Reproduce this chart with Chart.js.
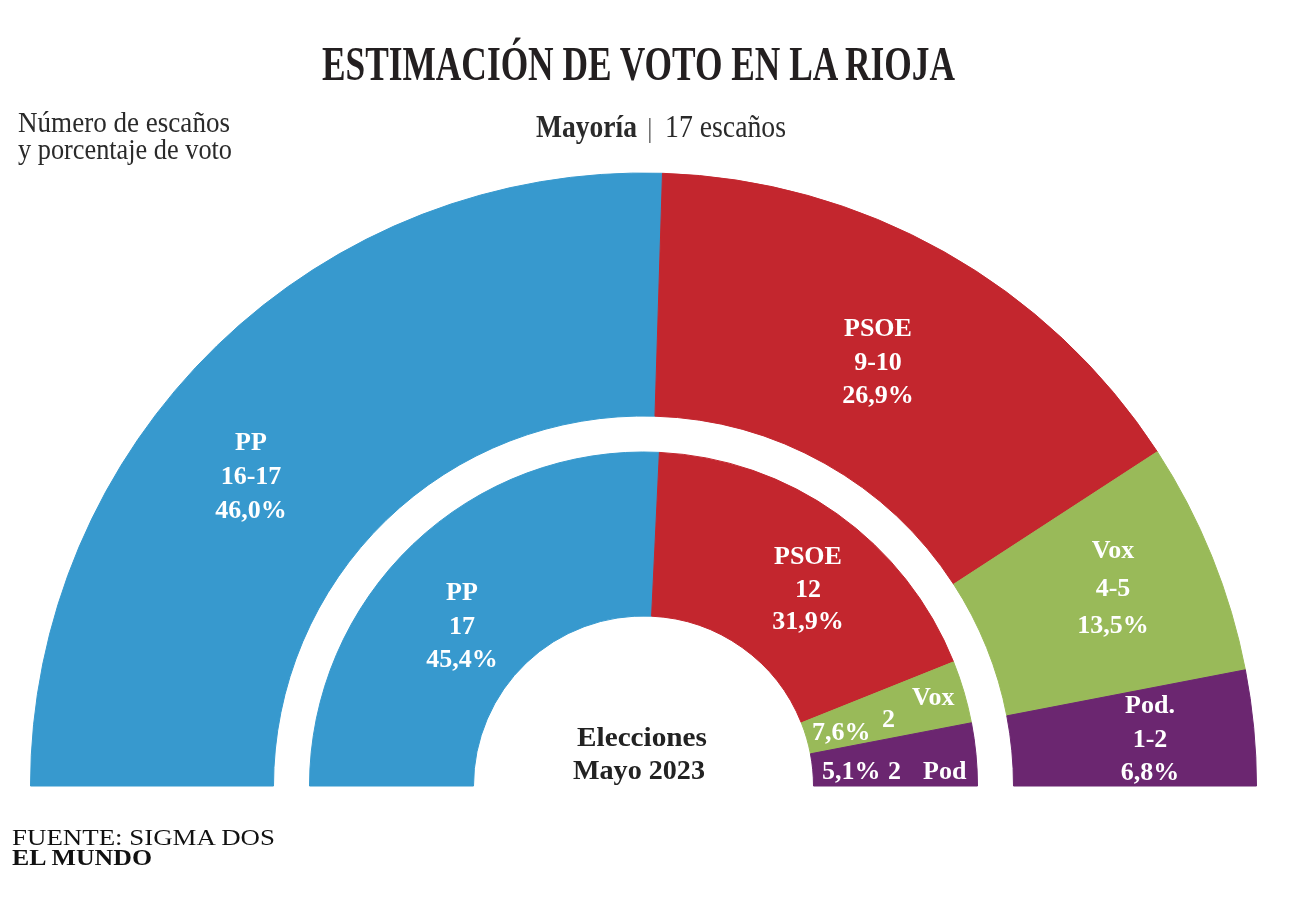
<!DOCTYPE html>
<html><head><meta charset="utf-8">
<script src="https://cdn.jsdelivr.net/npm/chart.js@4.4.0/dist/chart.umd.min.js"></script>
<style>
html,body{margin:0;padding:0;background:#fff;}
#wrap{position:relative;width:1292px;height:918px;overflow:hidden;background:#fff;}
#c{position:absolute;left:0;top:0;}
.t{position:absolute;left:0;top:0;white-space:nowrap;transform-origin:0 0;line-height:normal;}
</style></head><body>
<div id="wrap"><canvas id="c" width="1292" height="918"></canvas></div>
<script>
// ---- DATA ----
const parties = ['PP', 'PSOE', 'Vox', 'Pod.'];
// Outer ring: estimate (arc sizes, in seats)
const estimateArc = [16.8, 10.1, 4.05, 2.0];
const estimateSeats = ['16-17', '9-10', '4-5', '1-2'];
const estimatePct = ['46,0%', '26,9%', '13,5%', '6,8%'];
// Inner ring: Elecciones Mayo 2023 (seats)
const seats2023 = [17, 12, 2, 2];
const pct2023 = ['45,4%', '31,9%', '7,6%', '5,1%'];
const colors = ['#3799ce', '#c3262e', '#99ba59', '#6b2670'];

// ---- CHART ----
const R = 613, RIN = 170;
new Chart(document.getElementById('c'), {
  type: 'doughnut',
  data: {
    labels: parties,
    datasets: [
      { data: estimateArc, backgroundColor: colors, borderColor: colors, borderWidth: 1, weight: 243 },
      { data: [1], backgroundColor: 'rgba(0,0,0,0)', borderColor: 'rgba(0,0,0,0)', borderWidth: 0, weight: 36 },
      { data: seats2023, backgroundColor: colors, borderColor: colors, borderWidth: 1, weight: 164 }
    ]
  },
  options: {
    responsive: false, animation: false, devicePixelRatio: 1, events: [],
    rotation: -90, circumference: 180,
    radius: R, cutout: (RIN / R * 100) + '%',
    layout: { padding: { left: 0, right: 5, top: 41, bottom: 0 } },
    plugins: { legend: { display: false }, tooltip: { enabled: false } }
  }
});

// ---- TEXT ----
const wrap = document.getElementById('wrap');
const SERIF = '"Liberation Serif", "Times New Roman", serif';
function addText(txt, o) {
  const d = document.createElement('div');
  d.className = 't';
  d.style.fontFamily = o.family || SERIF;
  d.style.fontSize = o.size + 'px';
  d.style.fontWeight = o.weight || 400;
  d.style.color = o.color || '#222';
  d.appendChild(document.createTextNode(txt));
  const m = document.createElement('span');
  m.style.cssText = 'display:inline-block;width:0;height:0;';
  d.appendChild(m);
  wrap.appendChild(d);
  const base = m.offsetTop;
  const w = d.getBoundingClientRect().width;
  const s = o.width ? o.width / w : (o.scale || 1);
  const left = o.align === 'center' ? o.x - w * s / 2 : o.x;
  d.style.left = left + 'px';
  d.style.top = (o.y - base) + 'px';
  if (s !== 1) d.style.transform = 'scaleX(' + s + ')';
  return d;
}

addText('ESTIMACIÓN DE VOTO EN LA RIOJA', { x: 322, y: 80, size: 48, weight: 700, width: 633, color: '#231f20' });
addText('Número de escaños', { x: 18, y: 131.5, size: 29, width: 212, color: '#2a2a2a' });
addText('y porcentaje de voto', { x: 18, y: 159, size: 29, width: 214, color: '#2a2a2a' });
addText('Mayoría', { x: 536, y: 136.5, size: 31, weight: 700, width: 101, color: '#2a2a2a' });
addText('|', { x: 647, y: 136.5, size: 28, color: '#666' });
addText('17 escaños', { x: 665, y: 136.5, size: 31, width: 121, color: '#2a2a2a' });
addText('FUENTE: SIGMA DOS', { x: 12, y: 844.5, size: 24, width: 263, color: '#111' });
addText('EL MUNDO', { x: 12, y: 864.5, size: 23, weight: 700, width: 140, color: '#111' });
addText('Elecciones', { x: 642, y: 745.5, size: 28, weight: 700, width: 130, align: 'center', color: '#222' });
addText('Mayo 2023', { x: 639, y: 779, size: 28, weight: 700, width: 132, align: 'center', color: '#222' });

// ring labels
const W = '#fff';
function block(lines, cx, y0, gap, size) {
  lines.forEach((t, i) => addText(t, { x: cx, y: y0 + i * gap, size: size || 26, weight: 700, color: W, align: 'center' }));
}
block([parties[0], estimateSeats[0], estimatePct[0]], 251, 449.5, 34.3);
block([parties[1], estimateSeats[1], estimatePct[1]], 878, 336, 33.5);
block([parties[2], estimateSeats[2], estimatePct[2]], 1113, 558, 37.5);
block([parties[3], estimateSeats[3], estimatePct[3]], 1150, 713, 33.5);
block([parties[0], String(seats2023[0]), pct2023[0]], 462, 600, 33.5);
block([parties[1], String(seats2023[1]), pct2023[1]], 808, 564, 32.5);
// small inner labels
addText(pct2023[2], { x: 812, y: 740, size: 26, weight: 700, color: W });
addText(String(seats2023[2]), { x: 882, y: 726.5, size: 26, weight: 700, color: W });
addText('Vox', { x: 912, y: 705, size: 26, weight: 700, color: W });
addText(pct2023[3], { x: 822, y: 779, size: 26, weight: 700, color: W });
addText(String(seats2023[3]), { x: 888, y: 779, size: 26, weight: 700, color: W });
addText('Pod', { x: 923, y: 779, size: 26, weight: 700, color: W });
</script>
</body></html>
